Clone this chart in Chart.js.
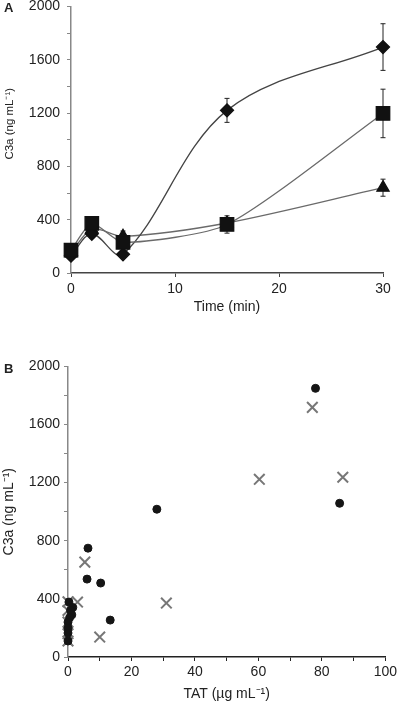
<!DOCTYPE html>
<html lang="en">
<head>
<meta charset="UTF-8">
<title>C3a</title>
<script src="https://cdn.jsdelivr.net/npm/chart.js@4.4.1/dist/chart.umd.min.js"></script>
<style>
  body { margin: 0; width: 400px; height: 707px; background: #fff; position: relative; overflow: hidden;
         font-family: "Liberation Sans", Arial, sans-serif; }
  canvas { position: absolute; left: 0; }
  #chartA { top: -9px; }
  #chartB { top: 354px; }
  .tag { position: absolute; left: 4px; font-weight: bold; font-size: 13px; color: #222; }
</style>
</head>
<body>

<canvas id="chartA" width="400" height="325"></canvas>
<canvas id="chartB" width="400" height="349"></canvas>
<div class="tag" style="top:0px">A</div>
<div class="tag" style="top:361px">B</div>

<script>
// panel A: C3a over time
const times = [0, 2, 5, 15, 30];
const diamond = [130, 294, 140, 1220, 1695];
const diamondErr = [20, 30, 25, 90, 175];
const square = [171, 372, 230, 364, 1197];
const squareErr = [20, 30, 40, 65, 182];
const triangle = [150, 330, 275, 375, 640];
const triangleErr = [20, 30, 40, 40, 64];

// panel B: C3a vs TAT
const circleX = [78, 85.6, 28, 6.3, 6, 10.3, 13.3, 0.3, 1.5, 0.8, 1.2, 0.5, 0, 0, 0, 0];
const circleY = [1849, 1058, 1017, 749, 536, 509, 254, 378, 340, 320, 290, 270, 240, 200, 165, 110];
const crossX = [77, 60.3, 86.6, 31, 5.3, 10, 3, 0, 0, 0, 0, 0];
const crossY = [1718, 1223, 1237, 371, 653, 137, 378, 380, 320, 240, 160, 110];

const yTicks = [0, 400, 800, 1200, 1600, 2000];

Chart.defaults.font.family = '"Liberation Sans", Arial, sans-serif';
Chart.defaults.color = '#222';

const pts = (xs, ys) => xs.map((x, i) => ({x: x, y: ys[i]}));

const errorBars = {
  id: 'errorBars',
  beforeDatasetsDraw(chart) {
    const {ctx, scales: {x, y}} = chart;
    ctx.save();
    ctx.strokeStyle = '#222';
    ctx.lineWidth = 1;
    chart.data.datasets.forEach(ds => {
      if (!ds.errors) return;
      ds.data.forEach((p, i) => {
        const e = ds.errors[i];
        const px = x.getPixelForValue(p.x);
        const top = y.getPixelForValue(p.y + e);
        const bot = y.getPixelForValue(p.y - e);
        ctx.beginPath();
        ctx.moveTo(px, top); ctx.lineTo(px, bot);
        ctx.moveTo(px - 2.5, top); ctx.lineTo(px + 2.5, top);
        ctx.moveTo(px - 2.5, bot); ctx.lineTo(px + 2.5, bot);
        ctx.stroke();
      });
    });
    ctx.restore();
  }
};

const yLabel = v => yTicks.includes(v) ? v : '';

function yAxis(width, pad, titleText, titleSize, titlePad) {
  return {
    min: 0, max: 2000,
    afterFit: s => { s.width = width; },
    border: {display: true, color: '#888', width: 1.5},
    grid: {drawOnChartArea: false, tickLength: 4, color: '#888'},
    ticks: {stepSize: 200, padding: pad, font: {size: 14}, callback: yLabel},
    title: {display: true, text: titleText, font: {size: titleSize}, padding: {top: titlePad, bottom: 0}}
  };
}

new Chart(document.getElementById('chartA'), {
  type: 'line',
  data: {
    datasets: [{
      data: pts(times, square), errors: squareErr,
      borderColor: '#6a6a6a', borderWidth: 1.3, tension: 0.22,
      pointStyle: 'rect', pointRadius: 9.5, pointBackgroundColor: '#111', pointBorderColor: '#111', clip: false
    }, {
      data: pts(times, diamond), errors: diamondErr,
      borderColor: '#444', borderWidth: 1.3, tension: 0.35,
      pointStyle: 'rectRot', pointRadius: 6.5, pointBackgroundColor: '#111', pointBorderColor: '#111', clip: false
    }, {
      data: pts(times, triangle), errors: triangleErr,
      borderColor: '#6a6a6a', borderWidth: 1.3, tension: 0.3,
      pointStyle: 'triangle', pointRadius: 7, pointBackgroundColor: '#111', pointBorderColor: '#111', clip: false
    }]
  },
  options: {
    responsive: false, animation: false, devicePixelRatio: 1,
    layout: {padding: {left: 0, right: 17, top: 4, bottom: 0}},
    plugins: {legend: {display: false}, tooltip: {enabled: false}},
    scales: {
      x: {
        type: 'linear', min: 0, max: 30,
        afterFit: s => { s.height = 43; },
        border: {display: true, color: '#444', width: 1.5},
        grid: {drawOnChartArea: false, tickLength: 4, color: '#444'},
        ticks: {stepSize: 10, padding: 4, font: {size: 14}},
        title: {display: true, text: 'Time (min)', font: {size: 14}, padding: {top: 0, bottom: 0}}
      },
      // leading spaces lift the centred title a little, as in the original
      y: yAxis(71, 7, '          C3a (ng mL\u207B\u00B9)', 11.5, 3)
    }
  },
  plugins: [errorBars]
});

new Chart(document.getElementById('chartB'), {
  type: 'scatter',
  data: {
    datasets: [{
      data: pts(circleX, circleY),
      pointStyle: 'circle', pointRadius: 4, pointBackgroundColor: '#151515', pointBorderColor: '#151515', clip: false
    }, {
      data: pts(crossX, crossY),
      pointStyle: 'crossRot', pointRadius: 7.5, pointBorderWidth: 2, pointBorderColor: '#777', clip: false
    }]
  },
  options: {
    responsive: false, animation: false, devicePixelRatio: 1,
    layout: {padding: {left: 0, right: 12, top: 0, bottom: 0}},
    plugins: {legend: {display: false}, tooltip: {enabled: false}},
    scales: {
      x: {
        type: 'linear', min: 0, max: 100,
        afterFit: s => { s.height = 46; },
        border: {display: true, color: '#222', width: 1.5},
        grid: {drawOnChartArea: false, tickLength: 4, color: '#222'},
        ticks: {stepSize: 10, padding: 3, font: {size: 14}, callback: v => v % 20 === 0 ? v : ''},
        title: {display: true, text: 'TAT (\u00B5g mL\u207B\u00B9)', font: {size: 14}, padding: {top: 0, bottom: 0}}
      },
      y: yAxis(68, 4, 'C3a (ng mL\u207B\u00B9)', 14, 1)
    }
  }
});
</script>
</body>
</html>
